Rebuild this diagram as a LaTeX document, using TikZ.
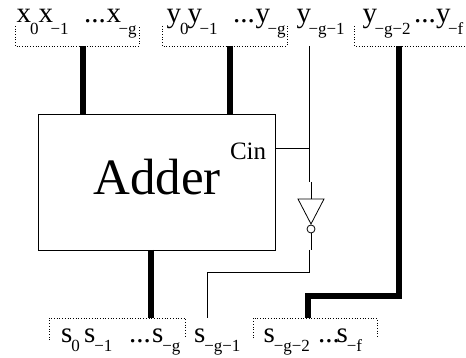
\documentclass[tikz,border=0pt]{standalone}
\usepackage{fontspec}
\setmainfont{Liberation Serif}
\newcommand{\subt}[1]{\kern-2.5pt\raisebox{-12pt}{\fontsize{17}{17}\selectfont #1}}
\newcommand{\subz}[1]{\kern-1pt\raisebox{-12pt}{\fontsize{17}{17}\selectfont #1}}
\newcommand{\subs}[1]{\kern-1pt\raisebox{-9.5pt}{\fontsize{17}{17}\selectfont #1}}
\tikzset{
  x=1pt,y=-1pt,
  lab/.style={anchor=base west,inner sep=0pt,outer sep=0pt,font=\fontsize{29}{29}\selectfont},
  bus/.style={line width=6.5pt,black},
  wire/.style={line width=0.8pt,black},
  group/.style={line width=0.7pt,dotted,black},
}
\begin{document}
\begin{tikzpicture}
\useasboundingbox (0,0) rectangle (466,358);
% coordinates
\node[draw,line width=0.8pt,minimum width=237pt,minimum height=136pt,inner sep=0pt,outer sep=0pt] (adder) at (156.5,182) {};
\node[inner sep=0pt,font=\fontsize{51}{51}\selectfont] (addertext) at (157,177) {Adder};
\node[lab,font=\fontsize{25}{25}\selectfont] (cin) at (230,159.5) {Cin};
\coordinate (xg) at (83,46); \coordinate (xb) at (83,114);
\coordinate (yg) at (230,46); \coordinate (yb) at (230,114);
\coordinate (zg) at (399,46); \coordinate (zc) at (399,296); \coordinate (zd) at (308,296); \coordinate (ze) at (308,318);
\coordinate (sb) at (151,250); \coordinate (sg) at (151,318);
\coordinate (wt) at (309,46); \coordinate (wj) at (309,148); \coordinate (wi) at (309,182);
\coordinate (ci) at (275,148);
\coordinate (it) at (311,182); \coordinate (il) at (298,199); \coordinate (ir) at (324,199); \coordinate (ia) at (311,224);
\node[draw,circle,line width=0.8pt,minimum size=8pt,inner sep=0pt,outer sep=0pt,fill=white] (bub) at (311,229) {};
\coordinate (ob) at (311,250); \coordinate (oc) at (309,250); \coordinate (od) at (309,272); \coordinate (oe) at (207,272); \coordinate (of) at (207,318);
% buses
\draw[bus] (xg) -- (xb);
\draw[bus] (yg) -- (yb);
\draw[bus,line join=miter] (zg) -- (zc) -- (zd) -- (ze);
\draw[bus] (sb) -- (sg);
% wires
\draw[wire] (wt) -- (wi);
\draw[wire] (ci) -- (wj);
\draw[wire] (it) -- (311,199);
\draw[wire] (il) -- (ir) -- (ia) -- cycle;
\draw[wire] (bub) -- (ob);
\draw[wire] (oc) -- (od) -- (oe) -- (of);
% dotted groups
\draw[group] (15,26) -- (15,46) -- (139,46) -- (139,26);
\draw[group] (162,26) -- (162,46) -- (287,46) -- (287,26);
\draw[group] (354.5,26) -- (354.5,46) -- (466,46);
\draw[group] (49,340) -- (49,318) -- (185,318) -- (185,338);
\draw[group] (253,338) -- (253,318) -- (377,318) -- (377,338);
% labels
\node[lab] (x0) at (16.5,23) {x\subz{0}};
\node[lab] (x1) at (38.5,23) {x\subt{−1}};
\node[lab] (xd) at (84,23) {...};
\node[lab] (xe) at (106.5,23) {x\subt{−g}};
\node[lab] (y0) at (166.5,23) {y\subz{0}};
\node[lab] (y1) at (187.5,23) {y\subt{−1}};
\node[lab] (yd) at (233,23) {...};
\node[lab] (ye) at (255.5,23) {y\subt{−g}};
\node[lab] (y2) at (296.5,23) {y\subt{−g−1}};
\node[lab] (y3) at (362.5,23) {y\subt{−g−2}};
\node[lab] (yh) at (414,23) {...};
\node[lab] (yf) at (436,23) {y\subt{−f}};
\node[lab] (s0) at (61,342) {s\subs{0}};
\node[lab] (s1) at (84,342) {s\subs{−1}};
\node[lab] (sd) at (129,342) {...};
\node[lab] (se) at (152,342) {s\subs{−g}};
\node[lab] (s2) at (194,342) {s\subs{−g−1}};
\node[lab] (s3) at (263.5,342) {s\subs{−g−2}};
\node[lab] (sh) at (318,342) {...};
\node[lab] (sf) at (336.5,342) {s\subs{−f}};
\end{tikzpicture}
\end{document}
